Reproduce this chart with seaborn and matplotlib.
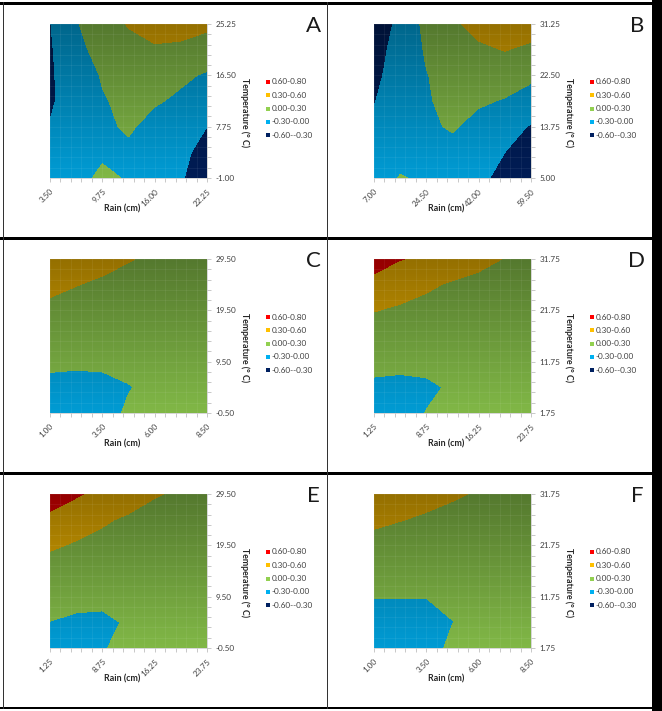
import numpy as np
import matplotlib
matplotlib.use("Agg")
import matplotlib.pyplot as plt
import seaborn as sns
from matplotlib.patches import Rectangle
from matplotlib.ticker import FixedLocator, AutoMinorLocator

sns.set_theme(style="white")
plt.rcParams['font.family'] = ['Lato', 'DejaVu Sans']

# ---------------- data ----------------
panel_letters = ["A", "B", "C", "D", "E", "F"]

rain_A = [3.50, 9.75, 16.00, 22.25]
temp_A = [-1.00, 7.75, 16.50, 25.25]
rain_B = [7.00, 24.50, 42.00, 59.50]
temp_B = [5.00, 13.75, 22.50, 31.25]
rain_C = [1.00, 3.50, 6.00, 8.50]
temp_C = [-0.50, 9.50, 19.50, 29.50]
rain_D = [1.25, 8.75, 16.25, 23.75]
temp_D = [1.75, 11.75, 21.75, 31.75]
rain_E = [1.25, 8.75, 16.25, 23.75]
temp_E = [-0.50, 9.50, 19.50, 29.50]
rain_F = [1.00, 3.50, 6.00, 8.50]
temp_F = [1.75, 11.75, 21.75, 31.75]

# response values, rows from top (max temperature) to bottom
z_A = [[-0.31, -0.02, 0.15, 0.32, 0.40, 0.40, 0.36],
       [-0.33, -0.08, 0.10, 0.20, 0.27, 0.25, 0.165],
       [-0.335, -0.15, 0.02, 0.11, 0.12, 0.05, -0.03],
       [-0.33, -0.18, -0.02, 0.06, 0.03, -0.05, -0.16],
       [-0.29, -0.15, -0.06, 0.04, -0.10, -0.20, -0.30],
       [-0.27, -0.12, -0.04, -0.06, -0.14, -0.22, -0.42],
       [-0.20, -0.08, 0.05, -0.02, -0.14, -0.27, -0.50]]
z_B = [[-0.45, -0.24, 0.08, 0.25, 0.40, 0.45, 0.42],
       [-0.40, -0.20, 0.03, 0.15, 0.25, 0.31, 0.25],
       [-0.36, -0.18, -0.01, 0.10, 0.16, 0.14, 0.06],
       [-0.31, -0.17, -0.02, 0.06, 0.04, -0.02, -0.13],
       [-0.26, -0.16, -0.05, 0.03, -0.10, -0.20, -0.32],
       [-0.22, -0.12, -0.07, -0.10, -0.18, -0.30, -0.47],
       [-0.20, 0.02, -0.05, -0.12, -0.24, -0.38, -0.58]]
z_C = [[0.45, 0.41, 0.36, 0.31, 0.27, 0.24, 0.22],
       [0.34, 0.305, 0.27, 0.24, 0.21, 0.19, 0.18],
       [0.26, 0.23, 0.20, 0.18, 0.16, 0.15, 0.14],
       [0.17, 0.15, 0.13, 0.12, 0.12, 0.11, 0.11],
       [0.05, 0.04, 0.04, 0.06, 0.08, 0.09, 0.10],
       [-0.07, -0.08, -0.06, -0.01, 0.05, 0.07, 0.09],
       [-0.12, -0.13, -0.08, 0.03, 0.07, 0.09, 0.10]]
z_D = [[0.72, 0.61, 0.55, 0.46, 0.38, 0.29, 0.22],
       [0.51, 0.425, 0.34, 0.27, 0.22, 0.18, 0.15],
       [0.31, 0.26, 0.22, 0.19, 0.16, 0.14, 0.12],
       [0.16, 0.14, 0.12, 0.11, 0.10, 0.10, 0.10],
       [0.06, 0.05, 0.05, 0.06, 0.07, 0.08, 0.09],
       [-0.04, -0.05, -0.03, 0.02, 0.05, 0.07, 0.08],
       [-0.09, -0.08, 0.005, 0.03, 0.06, 0.08, 0.09]]
z_E = [[0.74, 0.63, 0.53, 0.44, 0.32, 0.26, 0.20],
       [0.535, 0.435, 0.335, 0.26, 0.20, 0.16, 0.13],
       [0.34, 0.27, 0.22, 0.18, 0.15, 0.13, 0.11],
       [0.17, 0.15, 0.13, 0.11, 0.10, 0.10, 0.10],
       [0.05, 0.05, 0.05, 0.06, 0.07, 0.08, 0.09],
       [-0.002, -0.03, -0.04, 0.02, 0.05, 0.07, 0.08],
       [-0.06, -0.07, -0.01, 0.04, 0.07, 0.08, 0.09]]
z_F = [[0.42, 0.39, 0.35, 0.32, 0.285, 0.26, 0.24],
       [0.33, 0.305, 0.28, 0.25, 0.23, 0.21, 0.20],
       [0.25, 0.23, 0.21, 0.19, 0.18, 0.17, 0.16],
       [0.15, 0.14, 0.13, 0.13, 0.13, 0.13, 0.13],
       [0.01, 0.008, 0.005, 0.035, 0.07, 0.09, 0.10],
       [-0.10, -0.10, -0.08, -0.003, 0.04, 0.07, 0.08],
       [-0.14, -0.14, -0.10, 0.05, 0.06, 0.08, 0.09]]

level_bounds = [-0.9, -0.3, 0.0, 0.3, 0.6, 0.9]
level_labels = ["-0.60--0.30", "-0.30-0.00", "0.00-0.30", "0.30-0.60", "0.60-0.80"]
level_colors = ["#002060", "#00B0F0", "#92D050", "#FFC000", "#FF0000"]

panels = [
    (rain_A, temp_A, z_A), (rain_B, temp_B, z_B),
    (rain_C, temp_C, z_C), (rain_D, temp_D, z_D),
    (rain_E, temp_E, z_E), (rain_F, temp_F, z_F),
]

# ---------------- layout (pixels) ----------------
W, H = 662, 711
fig = plt.figure(figsize=(W / 100, H / 100), dpi=100)
fig.patch.set_facecolor("white")

def fx(px):
    return px / W

def fy(py):
    return 1 - py / H

plot_boxes = [(50, 24), (374, 24), (50, 259), (374, 259), (50, 494), (374, 494)]
PW, PH = 157, 154

text_col = "#404040"

for k, ((rain, temp, z), (x0, y0)) in enumerate(zip(panels, plot_boxes)):
    ax = fig.add_axes([fx(x0), fy(y0 + PH), PW / W, PH / H])
    zz = np.array(z)[::-1]
    xs = np.linspace(rain[0], rain[-1], zz.shape[1])
    ys = np.linspace(temp[0], temp[-1], zz.shape[0])
    ax.contourf(xs, ys, zz, levels=level_bounds, colors=level_colors, zorder=1)
    # Excel-like lighting: darker toward the top
    grad = np.zeros((64, 1, 4))
    grad[:, 0, 3] = np.linspace(0.42, 0.12, 64)
    ax.imshow(grad, extent=[rain[0], rain[-1], temp[0], temp[-1]],
              aspect="auto", origin="upper", zorder=2, interpolation="bilinear")
    ax.set_xlim(rain[0], rain[-1])
    ax.set_ylim(temp[0], temp[-1])
    ax.xaxis.set_major_locator(FixedLocator(rain))
    ax.yaxis.set_major_locator(FixedLocator(temp))
    ax.xaxis.set_minor_locator(AutoMinorLocator(5))
    ax.yaxis.set_minor_locator(AutoMinorLocator(5))
    ax.grid(which="both", color="white", alpha=0.07, lw=0.6, zorder=3)
    ax.set_axisbelow(False)
    ax.set_xticklabels([f"{v:.2f}" for v in rain], rotation=45, ha="right",
                       va="top", rotation_mode="anchor", fontsize=5.9, color=text_col)
    ax.yaxis.tick_right()
    ax.set_yticklabels([f"{v:.2f}" for v in temp], fontsize=5.9, color=text_col)
    ax.tick_params(axis="x", which="both", direction="out", length=3, width=0.6,
                   color="#bfbfbf", pad=4, bottom=True)
    ax.tick_params(axis="y", which="both", direction="out", length=3, width=0.6,
                   color="#bfbfbf", pad=3, right=True, left=False)
    for s in ["top", "left"]:
        ax.spines[s].set_visible(False)
    for s in ["bottom", "right"]:
        ax.spines[s].set_color("#d0d0d0")
        ax.spines[s].set_linewidth(0.6)

    # axis titles
    fig.text(fx(x0 + 72), fy(y0 + PH + 31), "Rain (cm)", ha="center", va="center",
             fontsize=6.4, fontweight="bold", color="#262626")
    fig.text(fx(x0 + PW + 38), fy(y0 + 89), "Temperature (° C)", ha="center",
             va="center", rotation=-90, fontsize=6.3, fontweight="bold", color="#262626")

    # legend
    for r, idx in enumerate(range(len(level_labels) - 1, -1, -1)):
        ly = y0 + 58 + r * 13.3
        fig.add_artist(Rectangle((fx(x0 + PW + 59), fy(ly + 2)), 4 / W, 4 / H,
                                 transform=fig.transFigure, color=level_colors[idx],
                                 lw=0))
        fig.text(fx(x0 + PW + 64.5), fy(ly), level_labels[idx], ha="left",
                 va="center", fontsize=5.9, color=text_col)

    # panel letter
    fig.text(fx(x0 + PW + 106), fy(y0 + 2), panel_letters[k], ha="center",
             va="center", fontsize=16, fontweight="normal", color="#1a1a1a")

# ---------------- panel frames ----------------
def box(px, py, pw, ph, col="black"):
    fig.add_artist(Rectangle((fx(px), fy(py + ph)), pw / W, ph / H,
                             transform=fig.transFigure, color=col, lw=0, zorder=10))

box(0, 2, 652, 3)          # top
box(0, 236.5, 652, 3)      # row separator 1
box(0, 471.5, 652, 3)      # row separator 2
box(0, 707, 652, 2)        # bottom
box(2.5, 2, 1.2, 707, "#333333")   # left
box(326.5, 2, 1.2, 707, "#333333") # middle
box(652, 0, 10, 711)       # right bar

fig.savefig("out.png", dpi=100)
